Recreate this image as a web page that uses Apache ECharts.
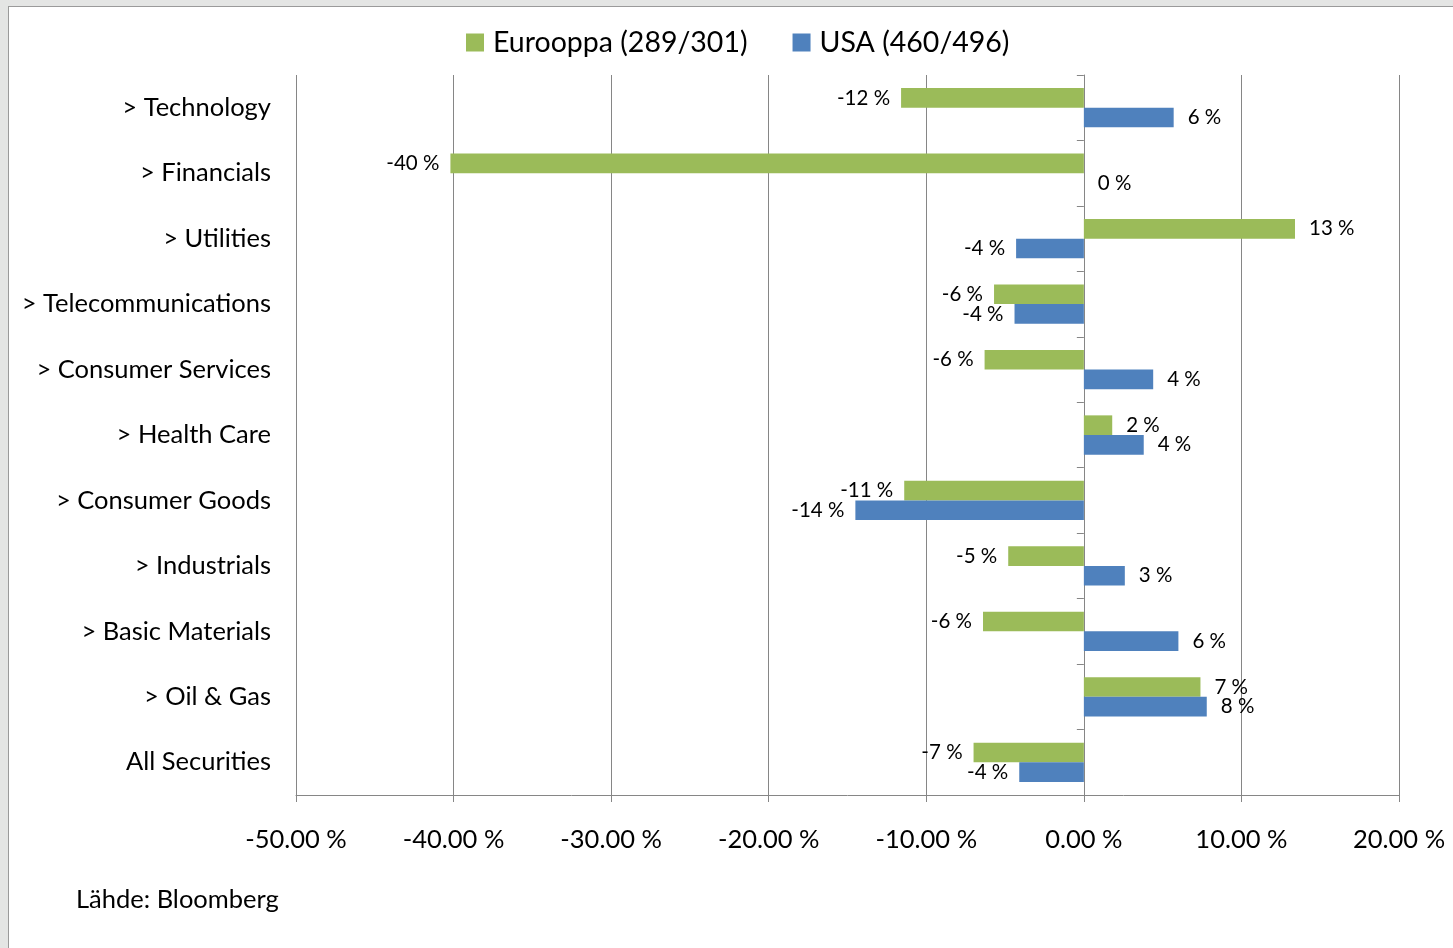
<!DOCTYPE html>
<html>
<head>
<meta charset="utf-8">
<script src="https://cdn.jsdelivr.net/npm/echarts@6/dist/echarts.min.js"></script>
<style>
  html, body { margin: 0; padding: 0; background: #e4e5e4; overflow: hidden; }
  #frame { position: absolute; left: 8px; top: 6px; width: 1500px; height: 1000px; background: #fff; border: 1px solid #9a9a9a; }
  #chart { position: absolute; left: 0; top: 0; width: 1453px; height: 948px; }
</style>
</head>
<body>
<div id="frame"></div>
<div id="chart"></div>
<script>
const categories = ['> Technology', '> Financials', '> Utilities', '> Telecommunications', '> Consumer Services', '> Health Care', '> Consumer Goods', '> Industrials', '> Basic Materials', '> Oil & Gas', 'All Securities'];
const seriesNames = ['Eurooppa (289/301)', 'USA (460/496)'];
const europeValues = [-11.6, -40.2, 13.4, -5.7, -6.3, 1.8, -11.4, -4.8, -6.4, 7.4, -7.0];
const usaValues = [5.7, 0.0, -4.3, -4.4, 4.4, 3.8, -14.5, 2.6, 6.0, 7.8, -4.1];
const xTicks = { min: -50, max: 20, interval: 10 };
const sourceText = 'Lähde: Bloomberg';

const FONT = 'Lato, "Open Sans", sans-serif';
const colors = ['#9BBB59', '#4F81BD'];
const CHART_W = 1453;

function makeData(values) {
  return values.map(v => ({
    value: v,
    label: v < 0 ? { position: 'left', distance: 11 } : { position: 'right', distance: 14 }
  }));
}

const gridRect = { left: 296, right: 54, top: 75, bottom: 153, containLabel: false };
// overlay grid whose left edge sits on the value-axis zero; it carries the tick-marked zero axis
const plotW = CHART_W - gridRect.left - gridRect.right;
const zeroLeft = gridRect.left + (0 - xTicks.min) / (xTicks.max - xTicks.min) * plotW;

const chart = echarts.init(document.getElementById('chart'));
chart.setOption({
  animation: false,
  textStyle: { fontFamily: FONT, color: '#000' },
  legend: {
    left: 466, top: 28, padding: 0,
    itemWidth: 18, itemHeight: 18, itemGap: 45,
    icon: 'rect',
    textStyle: { fontSize: 28.5, color: '#000', fontFamily: FONT, padding: [0, 0, 0, 4] },
    data: seriesNames
  },
  grid: [
    Object.assign({}, gridRect),
    { left: zeroLeft, right: gridRect.right, top: gridRect.top, bottom: gridRect.bottom, containLabel: false }
  ],
  xAxis: [
    {
      type: 'value', gridIndex: 0, min: xTicks.min, max: xTicks.max, interval: xTicks.interval,
      axisLine: { show: true, onZero: false, lineStyle: { color: '#868686', width: 1 } },
      axisTick: { show: true, length: 7, lineStyle: { color: '#868686' } },
      axisLabel: { fontSize: 25.5, color: '#000', margin: 32, fontFamily: FONT,
        formatter: v => v.toFixed(2) + ' %' },
      splitLine: { show: true, lineStyle: { color: '#868686', width: 1 } }
    },
    {
      type: 'value', gridIndex: 1, min: 0, max: xTicks.max, show: false
    }
  ],
  yAxis: [
    {
      type: 'category', gridIndex: 0, data: categories, inverse: true,
      axisLine: { show: false, onZero: false }, axisTick: { show: false },
      axisLabel: { fontSize: 25.5, color: '#000', margin: 25, fontFamily: FONT }
    },
    {
      type: 'category', gridIndex: 1, data: categories, inverse: true, position: 'left',
      axisLine: { show: true, onZero: false, lineStyle: { color: '#868686', width: 1 } },
      axisTick: { show: true, length: 7, lineStyle: { color: '#868686', width: 1 } },
      axisLabel: { show: false }
    }
  ],
  series: [
    {
      name: seriesNames[0], type: 'bar', xAxisIndex: 0, yAxisIndex: 0,
      data: makeData(europeValues),
      itemStyle: { color: colors[0] },
      barGap: '0%', barCategoryGap: '40%',
      label: { show: true, fontSize: 20.5, color: '#000', fontFamily: FONT,
        formatter: p => Math.round(p.value) + ' %' }
    },
    {
      name: seriesNames[1], type: 'bar', xAxisIndex: 0, yAxisIndex: 0,
      data: makeData(usaValues),
      itemStyle: { color: colors[1] },
      barGap: '0%', barCategoryGap: '40%',
      label: { show: true, fontSize: 20.5, color: '#000', fontFamily: FONT,
        formatter: p => Math.round(p.value) + ' %' }
    }
  ],
  graphic: [
    { type: 'text', left: 76, top: 887, style: { text: sourceText, fontSize: 25.5, fill: '#000', fontFamily: FONT } }
  ]
});
</script>
</body>
</html>
